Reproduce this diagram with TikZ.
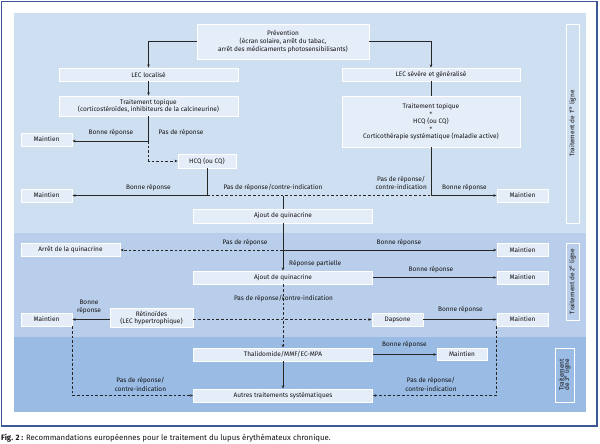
\documentclass[tikz,border=0pt]{standalone}
\usepackage{fontspec}
\setmainfont{Fira Sans}
\usetikzlibrary{arrows.meta}
\definecolor{frameblue}{RGB}{60,88,150}
\definecolor{bandA}{RGB}{207,223,242}
\definecolor{bandB}{RGB}{185,206,234}
\definecolor{bandC}{RGB}{153,187,228}
\definecolor{boxfill}{RGB}{229,237,248}
\definecolor{txt}{RGB}{20,20,20}
\tikzset{
  box/.style={draw=white, fill=boxfill, line width=0.9pt, inner sep=0pt, align=center,
    font=\fontsize{6.5}{7.6}\selectfont, text=txt},
  side/.style={draw=white, line width=0.9pt, inner sep=0pt, align=center,
    font=\fontsize{6.5}{7.6}\selectfont, text=txt},
  lbl/.style={inner sep=0pt, align=center, font=\fontsize{6.5}{8.6}\selectfont, text=txt},
  conn/.style={line width=0.6pt, draw=black!85},
  arr/.style={conn, -{Stealth[length=3.2pt,width=2.6pt]}},
  dsh/.style={dash pattern=on 2.6pt off 2pt}
}
\begin{document}
\begin{tikzpicture}[x=1pt,y=-1pt]
\useasboundingbox (0,0) rectangle (600,444);
% frame and bands
\fill[white] (0,0) rectangle (600,444);
\draw[frameblue, line width=1.2pt] (1.5,1.5) rectangle (597,426);
\fill[bandA] (14,13) rectangle (586,233);
\fill[bandB] (14,233) rectangle (586,337);
\fill[bandC] (14,337) rectangle (586,412);
% side labels
\node[side, minimum width=13pt, minimum height=199pt] (s1) at (572.5,123.5) {\rotatebox{90}{Traitement de 1\textsuperscript{re} ligne}};
\node[side, minimum width=13pt, minimum height=77pt] (s2) at (572.5,281.5) {\rotatebox{90}{Traitement de 2\textsuperscript{e} ligne}};
\node[side, minimum width=19pt, minimum height=54pt] (s3) at (565,375) {\rotatebox{90}{\begin{tabular}{@{}c@{}}Traitement\\[-2.5pt] de 3\textsuperscript{e} ligne\end{tabular}}};
% nodes
\node[box, minimum width=172pt, minimum height=35pt] (prev) at (283,41.5) {Prévention\\(écran solaire, arrêt du tabac,\\arrêt des médicaments photosensibilisants)};
\node[box, minimum width=179pt, minimum height=13pt] (lecl) at (148.5,74.5) {LEC localisé};
\node[box, minimum width=178pt, minimum height=13pt] (lecs) at (431,74.5) {LEC sévère et généralisé};
\node[box, minimum width=179pt, minimum height=20pt] (ttl) at (148.5,106) {Traitement topique\\(corticostéroïdes, inhibiteurs de la calcineurine)};
\node[box, minimum width=178pt, minimum height=51pt] (ttr) at (431,121.5) {Traitement topique\\+\\HCQ (ou CQ)\\+\\Corticothérapie systématique (maladie active)};
\node[box, minimum width=51pt, minimum height=13pt] (m1) at (46.5,139.5) {Maintien};
\node[box, minimum width=58pt, minimum height=14pt] (hcq) at (207,161) {HCQ (ou CQ)};
\node[box, minimum width=51pt, minimum height=13pt] (m2) at (46.5,195.5) {Maintien};
\node[box, minimum width=51pt, minimum height=13pt] (m3) at (522.5,195.5) {Maintien};
\node[box, minimum width=179pt, minimum height=14pt] (aj1) at (283,216) {Ajout de quinacrine};
\node[box, minimum width=99pt, minimum height=13pt] (arret) at (70.5,250) {Arrêt de la quinacrine};
\node[box, minimum width=51pt, minimum height=13pt] (m4) at (522.5,250) {Maintien};
\node[box, minimum width=179pt, minimum height=13pt] (aj2) at (283,277.5) {Ajout de quinacrine};
\node[box, minimum width=51pt, minimum height=13pt] (m5) at (522.5,277.5) {Maintien};
\node[box, minimum width=83pt, minimum height=19pt] (ret) at (151.5,318) {Rétinoïdes\\(LEC hypertrophique)};
\node[box, minimum width=51pt, minimum height=13pt] (m6l) at (46.5,319.5) {Maintien};
\node[box, minimum width=51pt, minimum height=13pt] (daps) at (397.5,319.5) {Dapsone};
\node[box, minimum width=51pt, minimum height=13pt] (m6r) at (522.5,319.5) {Maintien};
\node[box, minimum width=179pt, minimum height=13pt] (thal) at (283,354.5) {Thalidomide/MMF/EC-MPA};
\node[box, minimum width=50pt, minimum height=12pt] (m7) at (462,354.5) {Maintien};
\node[box, minimum width=179pt, minimum height=13pt] (autres) at (283,395.5) {Autres traitements systématiques};
% junctions
\coordinate (j1) at (148.5,141);
\coordinate (j2) at (207,195.5);
\coordinate (j3) at (431,195.5);
\coordinate (j4) at (283,195.5);
\coordinate (j5) at (283,250);
% connectors
\draw[arr] (prev.west) -| (lecl.north);
\draw[arr] (prev.east) -| (lecs.north);
\draw[arr] (lecl) -- (ttl);
\draw[conn] (lecs) -- (ttr);
\draw[conn] (ttl.south) -- (j1);
\draw[arr] (j1) -- (j1 -| m1.east);
\draw[arr,dsh] (j1) |- (hcq.west);
\draw[conn] (hcq.south) -- (j2);
\draw[arr] (j2) -- (m2.east);
\draw[conn,dsh] (j2) -- (j3);
\draw[conn] (ttr.south) -- (j3);
\draw[arr] (j3) -- (m3.west);
\draw[conn] (j4) -- (aj1.north);
\draw[conn] (aj1.south) -- (j5);
\draw[arr,dsh] (j5) -- (arret.east);
\draw[arr] (j5) -- (m4.west);
\draw[arr] (j5) -- (aj2.north);
\draw[arr] (aj2.east) -- (m5.west);
\draw[arr,dsh] (aj2.south) -- (thal.north);
\draw[arr,dsh] (ret.east |- daps.west) -- (daps.west);
\draw[arr] (ret.west |- m6l.east) -- (m6l.east);
\draw[arr] (daps.east) -- (m6r.west);
\draw[arr] (thal.east) -- (m7.west);
\draw[arr] (thal.south) -- (autres.north);
\draw[arr,dsh] (m6l.south east) |- (autres.west);
\draw[arr,dsh] (m6r.south west) |- (autres.east);
% labels
\node[lbl] (l1) at (111,133) {Bonne réponse};
\node[lbl] (l2) at (181,133) {Pas de réponse};
\node[lbl] (l3) at (148.5,188) {Bonne réponse};
\node[lbl] (l4) at (273,188) {Pas de réponse/contre-indication};
\node[lbl, anchor=east] (l5) at (427,183) {Pas de réponse/\\contre-indication};
\node[lbl] (l6) at (464.5,188) {Bonne réponse};
\node[lbl] (l7) at (245,243) {Pas de réponse};
\node[lbl] (l8) at (399,243) {Bonne réponse};
\node[lbl, anchor=west] (l9) at (289,264) {Réponse partielle};
\node[lbl] (l10) at (431,269.5) {Bonne réponse};
\node[lbl] (l11) at (283.5,299) {Pas de réponse/contre-indication};
\node[lbl] (l12) at (89,307) {Bonne\\réponse};
\node[lbl] (l13) at (460.5,310) {Bonne réponse};
\node[lbl] (l14) at (404.5,345) {Bonne réponse};
\node[lbl] (l15) at (140.5,384.5) {Pas de réponse/\\contre-indication};
\node[lbl] (l16) at (431,384.5) {Pas de réponse/\\contre-indication};
% caption
\node[anchor=west, inner sep=0pt, font=\fontsize{7.8}{9}\selectfont, text=txt] (cap) at (1,438) {\textbf{Fig. 2 :} Recommandations européennes pour le traitement du lupus érythémateux chronique.};
\end{tikzpicture}
\end{document}
